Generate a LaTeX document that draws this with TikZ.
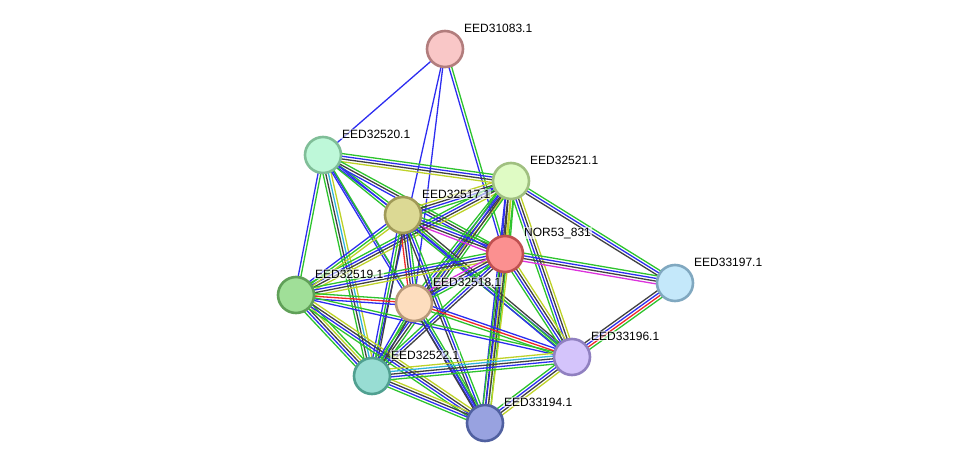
\documentclass[tikz,border=0pt]{standalone}
\usepackage{fontspec}
\setmainfont{Liberation Sans}
\usetikzlibrary{calc}
\definecolor{sg}{RGB}{45,195,45}
\definecolor{sb}{RGB}{45,45,240}
\definecolor{sk}{RGB}{65,65,65}
\definecolor{sy}{RGB}{190,210,40}
\definecolor{sr}{RGB}{240,40,40}
\definecolor{sm}{RGB}{220,50,220}
\definecolor{sc}{RGB}{50,180,220}
\definecolor{fA}{RGB}{249,199,199}\definecolor{dA}{RGB}{178,125,125}
\definecolor{fB}{RGB}{190,248,217}\definecolor{dB}{RGB}{128,190,152}
\definecolor{fC}{RGB}{223,251,196}\definecolor{dC}{RGB}{160,192,128}
\definecolor{fD}{RGB}{220,217,148}\definecolor{dD}{RGB}{160,154,88}
\definecolor{fN}{RGB}{251,144,144}\definecolor{dN}{RGB}{192,80,80}
\definecolor{fE}{RGB}{196,232,250}\definecolor{dE}{RGB}{128,168,192}
\definecolor{fF}{RGB}{160,223,152}\definecolor{dF}{RGB}{96,160,88}
\definecolor{fG}{RGB}{253,221,190}\definecolor{dG}{RGB}{184,152,120}
\definecolor{fH}{RGB}{212,196,251}\definecolor{dH}{RGB}{144,128,192}
\definecolor{fI}{RGB}{152,221,211}\definecolor{dI}{RGB}{80,160,144}
\definecolor{fJ}{RGB}{152,162,224}\definecolor{dJ}{RGB}{80,96,160}
\pgfdeclarelayer{edges}
\pgfsetlayers{edges,main}
\newcommand\stredge[3]{%
  \foreach \cc [count=\k] in {#3}{\xdef\nlines{\k}}%
  \foreach \cc [count=\k] in {#3}{%
    \pgfmathsetmacro\off{(\k-(\nlines+1)/2)*2.7}%
    \draw[\cc, line width=1.3pt] ($(#1.center)!\off pt!90:(#2.center)$) -- ($(#2.center)!\off pt!-90:(#1.center)$);
  }%
}
\tikzset{
  prot/.style={circle, minimum size=36pt, inner sep=0pt, line width=2.6pt, fill=f#1, draw=d#1},
  lab/.style={anchor=west, font=\fontsize{12}{14}\selectfont, fill=white, fill opacity=0.6, text opacity=1, inner sep=1pt}
}
\begin{document}
\begin{tikzpicture}[x=1pt,y=-1pt]
\useasboundingbox (0,0) rectangle (975,469);
\node[prot=A] (A) at (445,49) {};
\node[prot=B] (B) at (323,155) {};
\node[prot=C] (C) at (511,181) {};
\node[prot=D] (D) at (403,215) {};
\node[prot=N] (N) at (505,254) {};
\node[prot=E] (E) at (675,283) {};
\node[prot=F] (F) at (296,295) {};
\node[prot=G] (G) at (414,303) {};
\node[prot=H] (H) at (572,357) {};
\node[prot=I] (I) at (372,376) {};
\node[prot=J] (J) at (485,423) {};
\begin{pgfonlayer}{edges}
\stredge{A}{B}{sb}
\stredge{A}{N}{sb,sg}
\stredge{A}{I}{sb}
\stredge{A}{G}{sb}
\stredge{B}{C}{sy,sk,sb,sg}
\stredge{B}{D}{sb,sg}
\stredge{B}{N}{sb,sk,sg}
\stredge{B}{F}{sb,sg}
\stredge{B}{I}{sg,sk,sc,sy}
\stredge{B}{G}{sb}
\stredge{B}{H}{sg,sb}
\stredge{B}{J}{sb,sg}
\stredge{C}{D}{sy,sk,sb,sg}
\stredge{C}{N}{sb,sk,sy,sg}
\stredge{C}{E}{sk,sb,sg}
\stredge{C}{F}{sg,sb,sk,sy}
\stredge{C}{G}{sg,sb,sk,sy}
\stredge{C}{I}{sg,sb,sk,sg}
\stredge{C}{J}{sb,sk,sy,sg}
\stredge{C}{H}{sg,sb,sk,sy}
\stredge{D}{N}{sm,sk,sb,sg}
\stredge{D}{F}{sb,sg,sy}
\stredge{D}{G}{sr,sk,sb,sg}
\stredge{D}{I}{sb,sg,sk}
\stredge{D}{J}{sk,sb,sg}
\stredge{D}{H}{sb,sg,sk}
\stredge{N}{E}{sm,sk,sb,sg}
\stredge{N}{F}{sg,sb,sk,sy}
\stredge{N}{G}{sm,sk,sb,sg}
\stredge{N}{I}{sg,sb,sk}
\stredge{N}{J}{sg,sb,sk,sy}
\stredge{N}{H}{sg,sb,sk,sy}
\stredge{E}{H}{sk,sb,sr,sg}
\stredge{F}{G}{sb,sr,sg}
\stredge{F}{I}{sg,sb,sk,sy,sg}
\stredge{F}{J}{sg,sb,sk,sy}
\stredge{F}{H}{sb,sg}
\stredge{G}{I}{sb,sg,sk}
\stredge{G}{J}{sk,sb,sg}
\stredge{G}{H}{sg,sr,sb}
\stredge{I}{J}{sg,sb,sk,sy}
\stredge{I}{H}{sg,sb,sk,sc,sy}
\stredge{J}{H}{sy,sk,sb,sg}
\end{pgfonlayer}
\node[lab] (Al) at ($(A)+(18,-21)$) {EED31083.1};
\node[lab] (Bl) at ($(B)+(18,-21)$) {EED32520.1};
\node[lab] (Cl) at ($(C)+(18,-21)$) {EED32521.1};
\node[lab] (Dl) at ($(D)+(18,-21)$) {EED32517.1};
\node[lab] (Nl) at ($(N)+(18,-21)$) {NOR53\_831};
\node[lab] (El) at ($(E)+(18,-21)$) {EED33197.1};
\node[lab] (Fl) at ($(F)+(18,-21)$) {EED32519.1};
\node[lab] (Gl) at ($(G)+(18,-21)$) {EED32518.1};
\node[lab] (Hl) at ($(H)+(18,-21)$) {EED33196.1};
\node[lab] (Il) at ($(I)+(18,-21)$) {EED32522.1};
\node[lab] (Jl) at ($(J)+(18,-21)$) {EED33194.1};
\end{tikzpicture}
\end{document}
